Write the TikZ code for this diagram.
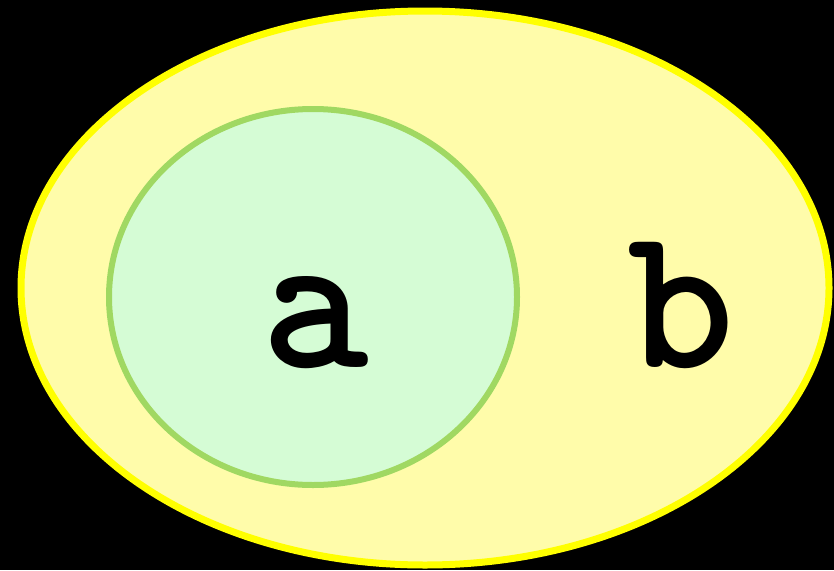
\documentclass[tikz,border=0pt]{standalone}
\definecolor{outerfill}{HTML}{FFFCAA}
\definecolor{outerline}{HTML}{FFFF00}
\definecolor{innerfill}{HTML}{D5FCD5}
\definecolor{innerline}{HTML}{A0D862}
\newcommand\courb{\fontsize{205}{205}\ttfamily\bfseries\selectfont}
\begin{document}
\begin{tikzpicture}[x=1pt,y=-1pt,
  setouter/.style={fill=outerfill,draw=outerline,line width=7pt},
  setinner/.style={fill=innerfill,draw=innerline,line width=6pt},
  setlabel/.style={font=\courb,text=black,inner sep=0pt,anchor=base}]
\fill[black] (0,0) rectangle (834,570);
\useasboundingbox (0,0) rectangle (834,570);
\draw[setouter] (425,288) ellipse [x radius=404, y radius=277];
\draw[setinner] (313,297) ellipse [x radius=204, y radius=188];
\node[setlabel] (a) at (315,367) {a};
\node[setlabel] (b) at (681,367) {b};
\end{tikzpicture}
\end{document}
